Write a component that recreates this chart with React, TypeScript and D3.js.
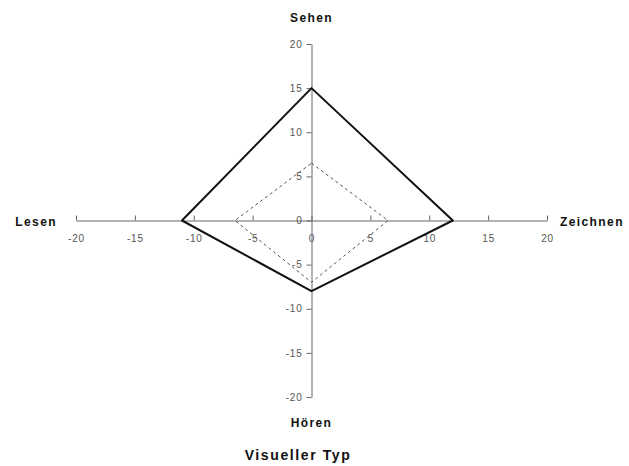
import React, { useRef, useEffect } from "react";
import * as d3 from "d3";

// axis order: top, right, bottom, left
const axes = ["Sehen", "Zeichnen", "Hören", "Lesen"];
// observed profile (solid) and reference profile (dashed)
const profileValues = [15, 12, 8, 11];
const referenceValues = [6.5, 6.5, 7, 6.5];
const tickValues = [-20, -15, -10, -5, 0, 5, 10, 15, 20];
const title = "Visueller Typ";

const W = 629;
const H = 466;

export default function App() {
  const svgRef = useRef<SVGSVGElement>(null);

  useEffect(() => {
    const svg = d3.select(svgRef.current);
    svg.selectAll("*").remove();
    const g = svg.append("g");

    const x = d3.scaleLinear().domain([-20, 20]).range([76, 547]);
    const y = d3.scaleLinear().domain([-20, 20]).range([397, 44]);

    const font = "Liberation Sans, Arial, sans-serif";
    const fmt = (d: any) => String(d);

    // horizontal axis, ticks pointing up, labels below
    const xAxis = d3
      .axisBottom(x)
      .tickValues(tickValues)
      .tickFormat(fmt)
      .tickSizeInner(-5)
      .tickSizeOuter(0)
      .tickPadding(14);
    const gx = g.append("g").attr("transform", `translate(0,${y(0)})`).call(xAxis);
    gx.select(".domain").attr("stroke", "#666");
    gx.selectAll(".tick line").attr("stroke", "#666");
    gx.selectAll(".tick text")
      .attr("fill", "#555")
      .attr("font-family", font)
      .attr("font-size", 10)
      .attr("letter-spacing", 0.8);

    // vertical axis, ticks to the left
    const yAxis = d3
      .axisLeft(y)
      .tickValues(tickValues)
      .tickFormat(fmt)
      .tickSizeInner(5)
      .tickSizeOuter(0)
      .tickPadding(4);
    const gy = g.append("g").attr("transform", `translate(${x(0)},0)`).call(yAxis);
    gy.select(".domain").attr("stroke", "#666");
    gy.selectAll(".tick line").attr("stroke", "#666");
    gy.selectAll(".tick text")
      .attr("fill", "#555")
      .attr("font-family", font)
      .attr("font-size", 10)
      .attr("letter-spacing", 0.8);

    // point for each axis direction
    const toPoint = (v: number, i: number): [number, number] => {
      if (i === 0) return [x(0), y(v)];
      if (i === 1) return [x(v), y(0)];
      if (i === 2) return [x(0), y(-v)];
      return [x(-v), y(0)];
    };
    const line = d3.line().curve(d3.curveLinearClosed);

    g.append("path")
      .attr("d", line(referenceValues.map(toPoint)))
      .attr("fill", "none")
      .attr("stroke", "#555")
      .attr("stroke-width", 1)
      .attr("stroke-dasharray", "3,3");

    g.append("path")
      .attr("d", line(profileValues.map(toPoint)))
      .attr("fill", "none")
      .attr("stroke", "#111")
      .attr("stroke-width", 2)
      .attr("stroke-linejoin", "round");

    // axis labels
    const labelPos: [number, number, string][] = [
      [x(0), 22, "middle"],
      [560, y(0) + 5, "start"],
      [x(0), 427, "middle"],
      [57, y(0) + 5, "end"],
    ];
    g.selectAll(".axis-label")
      .data(axes)
      .join("text")
      .attr("class", "axis-label")
      .attr("x", (d, i) => labelPos[i][0])
      .attr("y", (d, i) => labelPos[i][1])
      .attr("text-anchor", (d, i) => labelPos[i][2])
      .attr("font-family", font)
      .attr("font-size", 12)
      .attr("font-weight", "bold")
      .attr("letter-spacing", 1.4)
      .attr("fill", "#111")
      .text((d) => d);

    g.append("text")
      .attr("x", 298)
      .attr("y", 460)
      .attr("text-anchor", "middle")
      .attr("font-family", font)
      .attr("font-size", 14)
      .attr("font-weight", "bold")
      .attr("letter-spacing", 1.6)
      .attr("fill", "#111")
      .text(title);
  }, []);

  return (
    <svg
      ref={svgRef}
      width={W}
      height={H}
      style={{ display: "block", position: "absolute", left: 0, top: 0 }}
    />
  );
}
